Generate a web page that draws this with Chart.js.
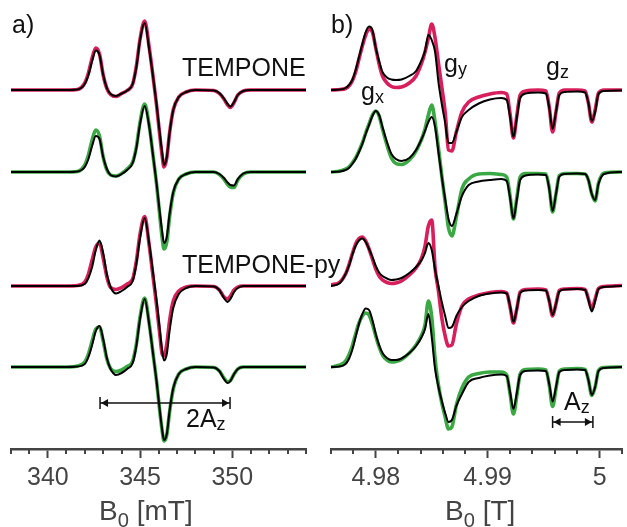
<!DOCTYPE html>
<html>
<head>
<meta charset="utf-8">
<script src="https://cdn.jsdelivr.net/npm/chart.js@4.4.1/dist/chart.umd.min.js"></script>
<style>
  body { margin: 0; background: #fff; }
  #wrap { position: relative; width: 627px; height: 527px; overflow: hidden;
          font-family: 'Liberation Sans', Arial, sans-serif; }
  canvas { position: absolute; top: 0; }
  .lbl { position: absolute; line-height: 1; white-space: nowrap; color: #111; font-size: 25px; }
  .lbl .s { font-size: 0.72em; position: relative; top: 0.18em; }
  .ttl { position: absolute; line-height: 1; white-space: nowrap; color: #444; font-size: 28px; }
  .ttl .s { font-size: 0.72em; position: relative; top: 0.35em; }
</style>
</head>
<body>
<div id="wrap">
  <canvas id="chartA" width="320" height="527" style="left:0"></canvas>
  <canvas id="chartB" width="309" height="527" style="left:318px"></canvas>

  <div class="lbl" style="left:12px;top:12px">a)</div>
  <div class="lbl" style="left:331px;top:12px">b)</div>
  <div class="lbl" style="left:182px;top:55px">TEMPONE</div>
  <div class="lbl" style="left:182px;top:252px">TEMPONE-py</div>
  <div class="lbl" style="left:361px;top:79px">g<span class="s">x</span></div>
  <div class="lbl" style="left:444px;top:51px">g<span class="s">y</span></div>
  <div class="lbl" style="left:546px;top:54px">g<span class="s">z</span></div>
  <div class="lbl" style="left:186px;top:406px">2A<span class="s">z</span></div>
  <div class="lbl" style="left:564px;top:389px">A<span class="s">z</span></div>
  <div class="ttl" style="left:99px;top:497px">B<span class="s">0</span> [mT]</div>
  <div class="ttl" style="left:445px;top:497px">B<span class="s">0</span> [T]</div>
</div>

<script>
// ---- panel a) field axis in mT ----
const fieldA = [338.0, 341.0, 341.6, 342.0, 342.2, 342.4, 342.6, 342.8, 343.0, 343.2,
                343.4, 343.7, 344.0, 344.3, 344.6, 344.8, 345.0, 345.25, 345.5, 345.7,
                345.9, 346.05, 346.2, 346.3, 346.45, 346.6, 346.8, 347.1, 347.5, 348.0,
                349.0, 349.3, 349.55, 349.75, 349.9, 350.1, 350.3, 350.6, 351.0, 354.0];

// TEMPONE (red), TEMPONE (green), TEMPONE-py (red), TEMPONE-py (green)
const expA1 = [0, 0, 0.5, 7, 17, 32, 42, 36, 15, 1.5, -4.5, -6.5, -3.5, -0.5, 6, 24, 51, 69, 42, 14,
               -16, -42, -66, -77, -68, -43, -20, -7, -2, 0, -0.5, -3.5, -9, -15, -17.5, -12.5, -5, -1, 0, 0];
const simA1 = [0, 0, 0.5, 6, 15, 29, 39.5, 35, 15, 2, -4, -6, -3.5, -0.5, 6, 23, 50, 67, 40, 14,
               -15, -40, -63, -75, -67, -43, -20, -7, -2, 0, -0.5, -3, -8.5, -14, -16.5, -12, -5, -1, 0, 0];
const expA2 = [0, 0, 0.5, 7, 17, 32, 42, 36, 15, 2, -3, -4, -1.5, 3, 10, 25, 50, 68, 46, 17,
               -13, -40, -66, -77, -70, -45, -21, -7, -2, 0, 0, -2.5, -7, -12.5, -15, -15.5, -8, -2, 0, 0];
const simA2 = [0, 0, 0.5, 5, 13, 26, 36, 33, 15, 3, -3, -4.5, -2, 2, 9, 24, 48, 66, 45, 17,
               -12, -37, -60, -71, -65, -42, -20, -7, -2, 0, 0, -2, -6, -10.5, -13, -13.5, -7, -1.5, 0, 0];
const expA3 = [0, 0, 0.5, 4, 12, 26, 39, 43, 28, 9, -1.5, -3.5, -1.5, 2, 7, 25, 52, 69.5, 40, 10,
               -20, -45, -68, -70, -58, -35, -15, -5, -1, 0, -0.5, -4, -11, -13, -10, -4, -1, 0, 0, 0];
const simA3 = [0, 0, 0, 2, 8, 19, 36, 45.5, 33, 12, -1, -7.5, -5, -1, 5, 22, 48, 68, 42, 14,
               -15, -40, -65, -74.5, -68, -45, -22, -8, -2, 0, -0.5, -4, -12, -16, -13, -6, -2, 0, 0, 0];
const expA4 = [0, 0, 1, 5, 13, 26, 38, 40, 26, 8, -1.5, -4.5, -3, 0.5, 6, 23, 50, 69, 43, 14,
               -15, -41, -64, -74, -68, -45, -22, -7, -2, 0, -0.5, -4, -11, -15, -13.5, -7, -2, 0, 0, 0];
const simA4 = [0, 0, 0.5, 3, 10, 22, 36, 41, 28, 9, -2, -8, -6, -2, 4, 21, 48, 68, 42, 14,
               -15, -40, -63, -73, -67, -44, -21, -7, -2, 0, -0.5, -4, -12, -16, -14, -7, -2, 0, 0, 0];

// ---- panel b) field axis in T ----
const fieldB = [4.9760, 4.9768, 4.9773, 4.9776, 4.9779, 4.9782, 4.9785, 4.9788, 4.9791, 4.9794,
                4.9797, 4.9800, 4.9803, 4.9806, 4.9810, 4.9814, 4.9818, 4.9823, 4.9830, 4.9836,
                4.9841, 4.9844, 4.9847, 4.9850, 4.9853, 4.9856, 4.9859, 4.9862, 4.9865, 4.9868,
                4.9872, 4.9877, 4.9883, 4.9892, 4.9902, 4.9912, 4.9917, 4.9920, 4.9923, 4.9926,
                4.9929, 4.9934, 4.9945, 4.9952, 4.9955, 4.9958, 4.9961, 4.9964, 4.9969, 4.9980,
                4.9987, 4.9990, 4.9993, 4.9996, 4.9999, 5.0004, 5.0020];

const expB1 = [0, 0.5, 1.5, 4, 9, 18, 31, 44, 55, 61, 58, 42, 26, 14, 7, 3.5, 2.5, 3, 7, 14,
               27, 38, 52, 66, 52, 27, 3, -22, -60, -61, -42, -22, -12, -7, -4, -2.5, -4, -24, -48, -26,
               -5, -1, 0, -1, -17, -42, -22, -3, 0, 0, -1, -13, -32, -20, -3, 0, 0];
const simB1 = [0, 0.5, 2, 5, 10, 20, 33, 46, 58, 63.5, 60, 42, 29, 18, 12.5, 10.5, 10, 10.5, 14, 19,
               30, 39, 55, 50, 38, 8, -14, -33, -53, -53, -42, -27, -20, -13.5, -9.5, -8, -10, -27, -47, -28,
               -8, -3.5, -2.5, -3.5, -18, -39, -22, -5, -2, -1.5, -2.5, -13, -31, -22, -4, -1, -0.5];
const expB2 = [0, 1, 3, 5, 9, 14, 21, 29, 39, 48, 57, 61, 56, 43, 27, 14, 8.5, 7.5, 12, 21,
               33, 43, 57, 67, 50, 24, -4, -30, -56, -64, -45, -17, -7, -2, -1.5, -2.5, -5, -24, -47, -26,
               -5, -1.5, -1.5, -2, -16, -40, -22, -3.5, -1.5, -1.5, -2, -8, -22, -29, -11, -1, 0];
const simB2 = [0, 0.5, 2, 4, 8, 13, 20, 28, 38, 47, 56, 61, 57, 45, 30, 18, 13, 11, 14, 22,
               33, 41, 50, 55, 45, 20, -5, -27, -47, -54, -42, -24, -13, -9.5, -8, -7, -9, -26, -46.5, -28,
               -8, -3.5, -2.5, -3, -17, -39, -22, -4.5, -2, -1.5, -2, -8, -22, -28, -12, -2, 0];
const expB3 = [1, 4, 12, 21, 32, 42, 47.5, 49, 45, 37, 27, 17, 10, 6, 3.5, 2.5, 3, 5, 11, 18,
               28, 40, 60, 66, 18, -5, -32, -50, -60, -59, -38, -20, -13, -9, -6.5, -5.5, -7, -21, -37, -23,
               -6, -3.5, -3, -4, -15, -30, -18, -4.5, -3, -2.5, -3.5, -13, -23, -13, -2.5, -0.5, 0.5];
const simB3 = [0, 3, 12, 20, 31, 40, 45.5, 47.5, 44, 37, 29, 20, 13.5, 10, 7.5, 6, 6.5, 8, 13, 19,
               26, 33, 43, 36, 16, 0, -16, -30, -42, -41, -30, -21, -15, -10, -7.5, -6.5, -7.5, -20, -36, -23,
               -7, -4.5, -4, -4.5, -15, -29, -18, -5.5, -3.5, -3, -4, -14, -25.5, -15, -3, -1, 0];
const expB4 = [0, 2, 6, 12, 21, 33, 44, 51, 54, 52, 43, 31, 20, 12, 7, 5, 5.5, 7.5, 14, 22,
               32, 42, 66, 50, 8, -18, -36, -50, -62, -60, -38, -21, -10, -6.5, -5, -5, -8, -27, -47, -29,
               -7, -2.5, -2, -3, -18, -39.5, -22, -4, -2, -1.5, -2.5, -13, -28.5, -20, -3.5, -0.5, 0];
const simB4 = [0, 0.5, 3, 8, 17, 30, 43, 53, 58.5, 57, 47, 33, 22, 14, 9, 7, 7, 8.5, 14, 21,
               30, 38, 53, 30, -2, -20, -34, -46, -55, -53, -39, -27, -15, -11, -8.5, -7.5, -9, -25, -42, -26,
               -8, -4, -3.5, -4, -17, -34.5, -20, -5, -3, -2.5, -3, -13, -28, -20, -4, -1, 0];

// vertical stacking of the four spectra (a.u.)
const traceOffset = [359, 277, 163, 82];

// double arrows: 2Az in panel a, Az in panel b
const arrowA = { x1: 342.83, x2: 349.88, y: 46 };
const arrowB = { x1: 4.9958, x2: 4.9994, y: 27 };

const RED = '#d81f5b';
const GREEN = '#3aa843';
const AXIS = '#444';
const FONT = "'Liberation Sans', Arial, sans-serif";

function isMajorA(v) { return Math.abs(v / 5 - Math.round(v / 5)) < 1e-6; }
function isMajorB(v) { return Math.abs(v * 100 - Math.round(v * 100)) < 1e-6; }

function traceData(xs, ys, k) {
    return xs.map((x, i) => ({ x: x, y: traceOffset[k] + ys[i] }));
}

function buildDatasets(xs, exps, sims) {
    const colors = [RED, GREEN, RED, GREEN];
    const sets = [];
    for (let k = 0; k < 4; k++) {
        sets.push({ label: 'sim ' + (k + 1), data: traceData(xs, sims[k], k),
                    borderColor: '#000', borderWidth: 2, order: 0 });
        sets.push({ label: 'exp ' + (k + 1), data: traceData(xs, exps[k], k),
                    borderColor: colors[k], borderWidth: 3.6, order: 1 });
    }
    return sets;
}

// minor ticks and the A_z double arrow
const panelExtras = {
    id: 'panelExtras',
    afterDraw(chart, args, opts) {
        const ctx = chart.ctx;
        const xs = chart.scales.x, ys = chart.scales.y;
        ctx.save();
        ctx.strokeStyle = AXIS;
        ctx.lineWidth = 2;
        xs.ticks.forEach(t => {
            if (opts.isMajor(t.value)) return;
            const x = Math.round(xs.getPixelForValue(t.value));
            ctx.beginPath();
            ctx.moveTo(x, xs.top);
            ctx.lineTo(x, xs.top + 5);
            ctx.stroke();
        });

        const a = opts.arrow;
        const x1 = xs.getPixelForValue(a.x1), x2 = xs.getPixelForValue(a.x2);
        const y = ys.getPixelForValue(a.y);
        ctx.strokeStyle = '#111';
        ctx.fillStyle = '#111';
        ctx.lineWidth = 1.5;
        ctx.beginPath();
        ctx.moveTo(x1, y); ctx.lineTo(x2, y);
        ctx.moveTo(x1, y - 6); ctx.lineTo(x1, y + 6);
        ctx.moveTo(x2, y - 6); ctx.lineTo(x2, y + 6);
        ctx.stroke();
        ctx.beginPath();
        ctx.moveTo(x1 + 1, y); ctx.lineTo(x1 + 8, y - 4); ctx.lineTo(x1 + 8, y + 4); ctx.closePath();
        ctx.moveTo(x2 - 1, y); ctx.lineTo(x2 - 8, y - 4); ctx.lineTo(x2 - 8, y + 4); ctx.closePath();
        ctx.fill();
        ctx.restore();
    }
};

function makePanel(id, xs, exps, sims, xMin, xMax, step, isMajor, fmt, padL, padR, arrow) {
    new Chart(document.getElementById(id), {
        type: 'line',
        data: { datasets: buildDatasets(xs, exps, sims) },
        options: {
            responsive: false,
            animation: false,
            layout: { padding: { left: padL, right: padR, top: 0, bottom: 0 } },
            elements: {
                point: { radius: 0 },
                line: { cubicInterpolationMode: 'monotone', borderJoinStyle: 'round', borderCapStyle: 'round' }
            },
            plugins: {
                legend: { display: false },
                tooltip: { enabled: false },
                panelExtras: { isMajor: isMajor, arrow: arrow }
            },
            scales: {
                x: {
                    type: 'linear',
                    min: xMin,
                    max: xMax,
                    // fixed axis band so the plot area ends at y = 449
                    afterFit: s => { s.height = 78; },
                    border: { display: true, color: AXIS, width: 2.5 },
                    grid: {
                        display: true,
                        drawOnChartArea: false,
                        tickLength: 9,
                        tickWidth: 2,
                        tickColor: c => (c.tick && isMajor(c.tick.value)) ? AXIS : 'rgba(0,0,0,0)'
                    },
                    ticks: {
                        stepSize: step,
                        autoSkip: false,
                        maxRotation: 0,
                        padding: 5,
                        color: AXIS,
                        font: { family: FONT, size: 25 },
                        callback: v => isMajor(v) ? fmt(v) : ''
                    }
                },
                y: { display: false, min: 0, max: 449 }
            }
        },
        plugins: [panelExtras]
    });
}

makePanel('chartA', fieldA, [expA1, expA2, expA3, expA4], [simA1, simA2, simA3, simA4],
          338, 354, 1, isMajorA, v => String(Math.round(v)), 11, 14, arrowA);
makePanel('chartB', fieldB, [expB1, expB2, expB3, expB4], [simB1, simB2, simB3, simB4],
          4.976, 5.002, 0.002, isMajorB, v => String(Number(v.toFixed(2))), 13, 1, arrowB);
</script>
</body>
</html>
